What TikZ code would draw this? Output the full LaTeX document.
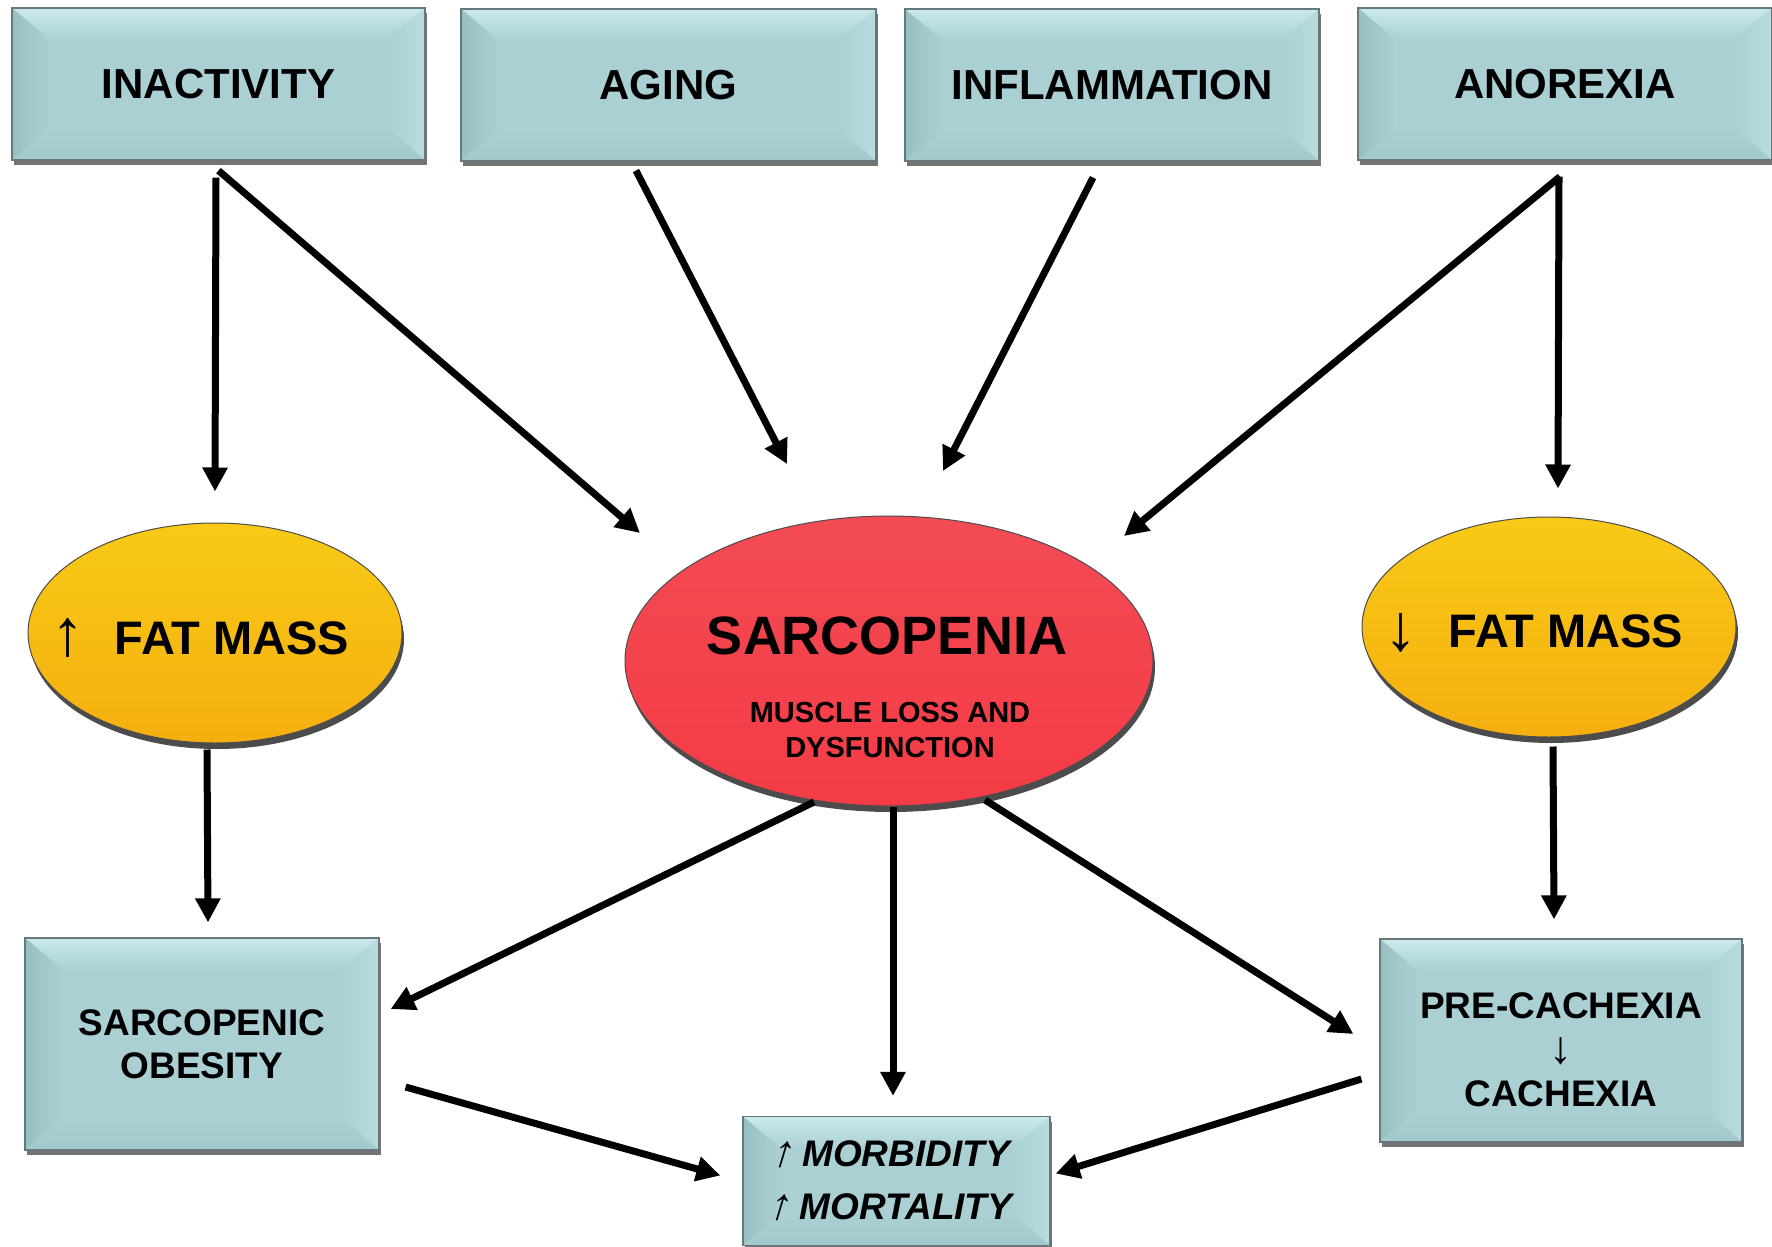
\documentclass[tikz,border=0pt]{standalone}
\usepackage{fontspec}
\setmainfont{Liberation Sans}
\newfontfamily\slantarrows{Liberation Sans}[FakeSlant=0.3]
\usetikzlibrary{arrows.meta,shadows,shapes.geometric}

\definecolor{boxface}{HTML}{AAD0D3}
\definecolor{boxtop}{HTML}{CBE9EB}
\definecolor{boxleft}{HTML}{98C0C3}
\definecolor{boxright}{HTML}{B9DCDE}
\definecolor{boxbottom}{HTML}{A2C9CC}
\definecolor{boxline}{HTML}{68787A}
\definecolor{redtop}{HTML}{F34B54}
\definecolor{redmid}{HTML}{F13B45}
\definecolor{redbot}{HTML}{F43B46}
\definecolor{yeltop}{HTML}{F8CA16}
\definecolor{yelmid}{HTML}{F6B711}
\definecolor{yelbot}{HTML}{F5AF10}

\newcommand{\fs}[2]{\bfseries\fontsize{#1}{#2}\selectfont}
\newcommand{\upslant}{{\slantarrows\mdseries\fontsize{44pt}{53pt}\selectfont ↑}}

\tikzset{
  bevelbox/.style={rectangle, draw=boxline, line width=1.2pt, fill=boxface,
    inner sep=0pt, align=center,
    drop shadow={shadow xshift=1.5pt, shadow yshift=-5pt, opacity=0.55, fill=black},
    path picture={
      \coordinate (bnw) at (path picture bounding box.north west);
      \coordinate (bne) at (path picture bounding box.north east);
      \coordinate (bsw) at (path picture bounding box.south west);
      \coordinate (bse) at (path picture bounding box.south east);
      \shade[top color=boxtop, bottom color=boxface]
        (bnw) -- (bne) -- ([xshift=-38pt,yshift=-32pt]bne) -- ([xshift=38pt,yshift=-32pt]bnw) -- cycle;
      \shade[left color=boxleft, right color=boxface]
        (bnw) -- ([xshift=38pt,yshift=-32pt]bnw) -- ([xshift=38pt,yshift=32pt]bsw) -- (bsw) -- cycle;
      \shade[left color=boxface, right color=boxright]
        (bne) -- ([xshift=-38pt,yshift=-32pt]bne) -- ([xshift=-38pt,yshift=32pt]bse) -- (bse) -- cycle;
      \shade[top color=boxface, bottom color=boxbottom]
        (bsw) -- ([xshift=38pt,yshift=32pt]bsw) -- ([xshift=-38pt,yshift=32pt]bse) -- (bse) -- cycle;
    }},
  redoval/.style={ellipse, draw=black!70, line width=1pt, inner sep=0pt,
    top color=redtop, middle color=redmid, bottom color=redbot,
    drop shadow={shadow xshift=2pt, shadow yshift=-6pt, opacity=0.7, fill=black}},
  yeloval/.style={ellipse, draw=black!70, line width=1pt, inner sep=0pt,
    top color=yeltop, middle color=yelmid, bottom color=yelbot,
    drop shadow={shadow xshift=2pt, shadow yshift=-6pt, opacity=0.7, fill=black}},
  label/.style={inner sep=0pt, align=center},
  arr/.style={line width=7pt, -{Triangle[length=24pt,width=24pt]}}
}

\begin{document}
\begin{tikzpicture}[x=1pt,y=-1pt]
\useasboundingbox (0,0) rectangle (1772,1247);

% cause boxes along the top
\node[bevelbox, font=\fs{42pt}{50pt}, minimum width=413pt, minimum height=152pt] (inact) at (218.5,84) {INACTIVITY};
\node[bevelbox, font=\fs{42pt}{50pt}, minimum width=415pt, minimum height=152pt] (aging) at (668.5,85) {AGING};
\node[bevelbox, font=\fs{42pt}{50pt}, minimum width=414pt, minimum height=152pt] (infl) at (1112,85) {INFLAMMATION};
\node[bevelbox, font=\fs{42pt}{50pt}, minimum width=414pt, minimum height=152pt] (anor) at (1565,84) {ANOREXIA};

% central ellipses
\node[yeloval, minimum width=374pt, minimum height=220pt] (fatL) at (215,633) {};
\node[redoval, minimum width=528pt, minimum height=290pt] (sarc) at (889,661) {};
\node[yeloval, minimum width=374pt, minimum height=220pt] (fatR) at (1549,627) {};

\node[label, font=\fontsize{66pt}{70pt}\selectfont] (fatLa) at (68,638) {↑};
\node[label, font=\fs{47pt}{56pt}] (fatLt) at (232,638) {FAT MASS};
\node[label, font=\fontsize{66pt}{70pt}\selectfont] (fatRa) at (1401,633) {↓};
\node[label, font=\fs{47pt}{56pt}] (fatRt) at (1566,631) {FAT MASS};
\node[label, font=\fs{54pt}{64pt}] (sarcT) at (887,636) {SARCOPENIA};
\node[label, font=\fs{29pt}{35pt}] (sarcS) at (890,730) {MUSCLE LOSS AND\\DYSFUNCTION};

% outcome boxes
\node[bevelbox, font=\fs{37pt}{43pt}, minimum width=354pt, minimum height=212pt] (obes) at (202,1044)
  {SARCOPENIC\\OBESITY};
\node[bevelbox, font=\fs{37pt}{53pt}\itshape, minimum width=307pt, minimum height=129pt] (morb) at (896.5,1181)
  {\upslant\kern11pt MORBIDITY\rule{14pt}{0pt}\\\upslant\kern11pt MORTALITY\rule{14pt}{0pt}};
\node[bevelbox, font=\fs{37pt}{45pt}, minimum width=362pt, minimum height=203pt] (prec) at (1561,1040.5)
  {\rule{0pt}{44pt}PRE-CACHEXIA\\[0pt]{\mdseries\fontsize{46pt}{44pt}\selectfont ↓}\\[-2pt]CACHEXIA};

% connectors
\draw[arr] ([xshift=-2.5pt,yshift=-17pt]inact.south) -- ([yshift=31pt]fatL.north);
\draw[arr] ([yshift=-10pt]inact.south) -- ([xshift=-249pt,yshift=128pt]sarc.center);
\draw[arr] ([xshift=-32.5pt,yshift=-9pt]aging.south) -- ([xshift=-102pt,yshift=197pt]sarc.center);
\draw[arr] ([xshift=-19pt,yshift=-16pt]infl.south) -- ([xshift=54pt,yshift=190pt]sarc.center);
\draw[arr] ([xshift=-5pt,yshift=-16pt]anor.south) -- ([xshift=235pt,yshift=125pt]sarc.center);
\draw[arr] ([xshift=-6pt,yshift=-16pt]anor.south) -- ([xshift=9pt,yshift=28pt]fatR.north);
\draw[arr] ([xshift=-8pt,yshift=-6pt]fatL.south) -- ([xshift=6pt,yshift=15pt]obes.north);
\draw[arr] ([xshift=4pt,yshift=-9pt]fatR.south) -- ([xshift=-7pt,yshift=19pt]prec.north);
\draw[arr] ([xshift=-75pt,yshift=-141pt]sarc.center) -- ([xshift=11pt,yshift=35pt]obes.east);
\draw[arr] ([xshift=4pt]sarc.south) -- ([xshift=-3.5pt,yshift=20pt]morb.north);
\draw[arr] ([xshift=96pt,yshift=-139pt]sarc.center) -- ([xshift=-26pt,yshift=6.5pt]prec.west);
\draw[arr] ([xshift=26pt,yshift=-43pt]obes.east) -- ([xshift=-22pt,yshift=5.5pt]morb.west);
\draw[arr] ([xshift=-18pt,yshift=-38.5pt]prec.west) -- ([xshift=5pt,yshift=7.5pt]morb.east);
\end{tikzpicture}
\end{document}
